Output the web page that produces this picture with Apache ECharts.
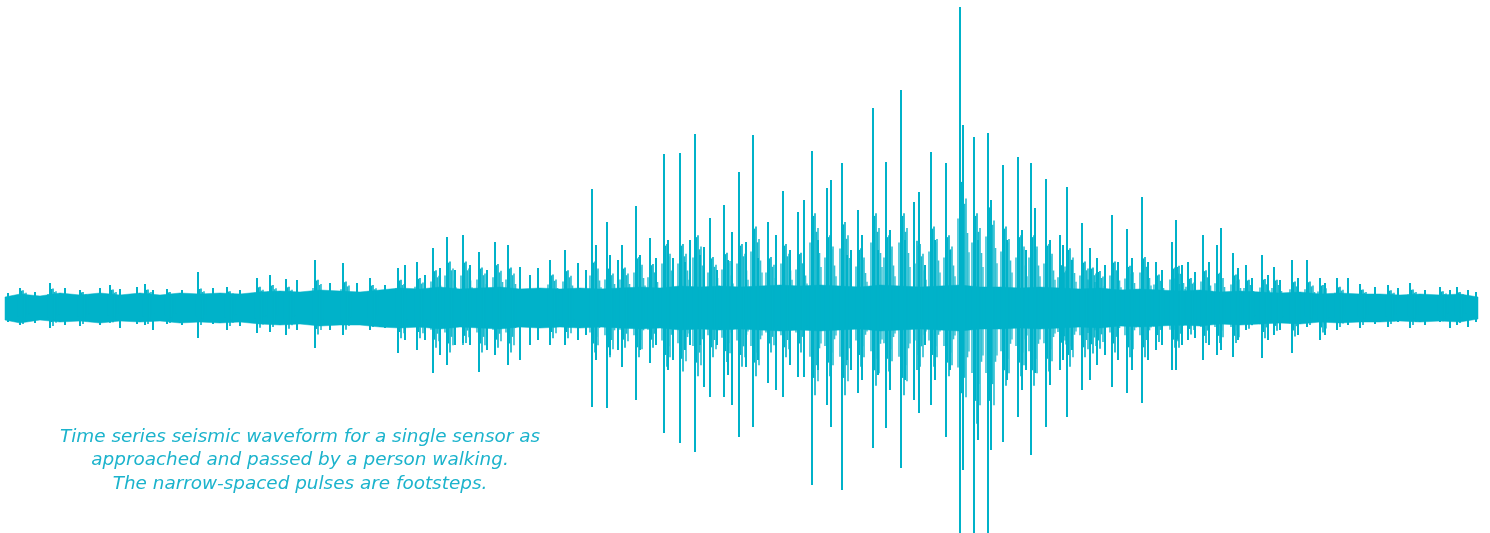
<!DOCTYPE html>
<html>
<head>
<meta charset="utf-8">
<script src="https://cdn.jsdelivr.net/npm/echarts@6/dist/echarts.min.js"></script>
<style>
html,body{margin:0;padding:0;background:#fff;}
#chart{width:1490px;height:533px;}
</style>
</head>
<body>
<div id="chart"></div>
<script>
// Caption lines
const captionLines = [
  'Time series seismic waveform for a single sensor as',
  'approached and passed by a person walking.',
  'The narrow-spaced pulses are footsteps.'
];

// Dense core band of the waveform (time, upper envelope, lower envelope)
const coreT = [5,20,40,60,80,100,120,140,160,180,200,220,240,260,280,300,320,340,360,380,400,420,440,460,480,500,520,540,560,580,600,620,640,660,680,700,720,740,760,780,800,820,840,860,880,900,920,940,960,980,1000,1020,1040,1060,1080,1100,1120,1140,1160,1180,1200,1220,1240,1260,1280,1300,1320,1340,1360,1380,1400,1420,1440,1460,1478];
const coreHi = [9,12,10,13,11,13,11,13,11,13,12,13,12,14,15,14,16,15,14,16,18,17,19,17,18,19,17,18,17,18,17,18,19,18,20,19,20,19,20,21,20,21,20,19,21,20,19,20,21,19,19,18,19,18,17,18,16,17,16,15,16,14,15,14,13,14,12,13,12,12,11,12,11,12,9];
const coreLo = [-14,-17,-14,-16,-15,-17,-15,-16,-15,-17,-16,-17,-16,-18,-19,-18,-20,-19,-19,-21,-22,-21,-23,-21,-22,-23,-21,-22,-21,-22,-21,-22,-23,-22,-24,-23,-24,-23,-24,-25,-24,-25,-24,-23,-25,-24,-23,-24,-25,-23,-23,-22,-23,-22,-21,-22,-20,-21,-20,-19,-20,-18,-19,-18,-17,-18,-16,-17,-16,-16,-15,-16,-15,-16,-13];

// Individual pulses (footstep spikes): time, positive peak, negative peak
const spikeT = [8,20,35,50,65,80,100,110,120,137,145,153,167,182,198,213,227,240,257,270,286,297,
  315,330,343,357,370,385,398,405,417,425,433,440,447,455,463,470,479,487,495,508,520,530,538,550,565,578,586,
  592,596,607,610,618,622,636,640,650,656,664,668,673,680,685,690,695,700,704,710,717,724,728,
  732,739,746,753,758,768,776,783,790,798,804,812,818,827,831,842,847,851,858,862,873,878,
  886,890,901,905,914,919,925,931,935,946,950,960,963,974,978,988,991,1003,1007,1018,1022,1026,
  1031,1035,1046,1050,1060,1063,1067,1072,1082,1090,1097,1105,1112,1118,1127,1132,1142,1148,1156,1162,1172,1176,1182,
  1188,1195,1203,1209,1217,1221,1233,1238,1246,1252,1262,1268,1274,1280,1292,1298,1307,1320,1325,1337,1348,1360,1375,1388,1398,1410,1425,1440,1450,1457,1468,1476];
const spikeHi = [13,18,14,23,18,16,18,21,17,19,22,16,17,16,34,18,19,16,28,31,27,26,
  46,23,43,23,28,21,38,41,44,31,58,38,69,36,71,41,54,36,64,61,39,31,38,46,56,43,36,
  117,61,84,51,46,61,100,51,68,48,152,66,48,153,44,66,172,51,59,88,36,101,46,
  74,134,64,171,48,84,71,115,56,94,106,155,66,118,126,143,51,56,96,71,198,56,
  144,76,216,66,104,114,41,154,66,143,56,299,181,169,66,173,106,141,66,149,76,56,
  143,98,127,66,71,61,119,46,83,58,48,41,91,44,77,48,109,44,44,36,64,86,41,
  44,34,71,44,61,78,53,38,41,28,51,31,39,26,46,28,46,28,23,28,28,22,19,21,18,23,16,19,16,19,16,14];
const spikeLo = [-16,-19,-17,-22,-19,-20,-19,-16,-22,-18,-19,-24,-18,-19,-32,-18,-24,-20,-27,-26,-29,-24,
  -42,-24,-29,-19,-24,-22,-47,-34,-44,-34,-67,-49,-59,-39,-37,-39,-66,-44,-49,-59,-54,-39,-34,-39,-39,-34,-29,
  -101,-54,-102,-49,-44,-61,-94,-44,-57,-39,-127,-64,-54,-137,-44,-39,-146,-39,-81,-91,-39,-91,-69,
  -99,-131,-61,-121,-54,-77,-84,-91,-59,-71,-71,-179,-64,-99,-121,-184,-54,-64,-87,-74,-142,-69,
  -122,-84,-162,-74,-94,-107,-39,-99,-74,-131,-64,-240,-164,-240,-134,-240,-144,-136,-74,-111,-84,-64,
  -149,-67,-121,-79,-64,-54,-111,-44,-84,-74,-59,-49,-81,-54,-87,-64,-97,-54,-44,-39,-64,-64,-39,
  -34,-32,-54,-39,-49,-44,-51,-34,-24,-19,-52,-34,-29,-24,-47,-29,-21,-34,-29,-24,-19,-22,-18,-21,-16,-22,-19,-16,-22,-19,-21,-16];

// Dense bursts that follow each footstep: time, upper and lower extent of the dense part
const burstT  = [20,50,80,110,145,167,198,227,257,270,286,315,343,370,398,417,
  433,447,463,479,495,508,550,565,592,607,622,636,650,664,680,695,710,724,739,753,768,783,798,812,827,842,858,873,886,901,917,931,946,960,974,988,1003,1018,1031,1046,1060,1067,1082,1090,1097,1112,1127,1142,1156,1172,1176,1188,1203,1217,1233,1246,1262,1274,1292,1307,1320,1337,1360,1388,1410,1440,1457];
const burstHi = [18,20,16,19,19,16,20,17,22,24,22,30,28,24,30,32,
  41,51,51,44,48,44,36,41,51,44,44,56,48,71,71,81,56,61,71,91,56,71,61,106,81,96,66,106,81,106,71,91,81,146,106,116,91,81,81,71,48,66,51,44,40,51,46,56,36,44,46,32,41,38,36,30,31,30,28,28,24,22,19,18,19,17,16];
const burstLo = [-19,-21,-19,-17,-19,-18,-20,-21,-23,-22,-24,-30,-25,-22,-34,-34,
  -44,-49,-39,-49,-44,-49,-34,-34,-49,-54,-44,-54,-44,-64,-69,-74,-54,-59,-64,-74,-49,-54,-49,-94,-74,-94,-64,-84,-69,-94,-64,-64,-74,-114,-124,-124,-84,-74,-84,-69,-48,-64,-54,-50,-45,-49,-54,-54,-38,-44,-44,-30,-39,-39,-39,-24,-34,-26,-32,-20,-28,-22,-20,-19,-20,-16,-18];

const COLOR = '#00B2C9';
const chart = echarts.init(document.getElementById('chart'));

const coreData = coreT.map((t, i) => [t, coreHi[i], coreLo[i]]);
const spikeData = spikeT.map((t, i) => [t, spikeHi[i], spikeLo[i]]);
const burstData = burstT.map((t, i) => [t, burstHi[i], burstLo[i]]);

// hatch pattern of a burst glyph: [offset in time units, relative length, opacity]
const HATCH = [[-2, 0.6, 0.8], [0, 1, 1], [1.5, 0.85, 1], [3, 0.95, 1], [4.5, 0.7, 0.9], [6, 0.8, 0.85], [7.5, 0.5, 0.8], [9, 0.4, 0.7]];

chart.setOption({
  animation: false,
  backgroundColor: '#ffffff',
  grid: { left: 0, right: 0, top: 0, bottom: 0 },
  xAxis: { type: 'value', min: 0, max: 1490, show: false },
  yAxis: { type: 'value', min: -227, max: 306, show: false },
  series: [
    {
      type: 'custom',
      clip: true,
      data: coreData,
      renderItem: function (params, api) {
        const i = params.dataIndex;
        if (i >= coreData.length - 1) return null;
        const a = coreData[i], b = coreData[i + 1];
        const pts = [
          api.coord([a[0], a[1]]), api.coord([b[0], b[1]]),
          api.coord([b[0], b[2]]), api.coord([a[0], a[2]])
        ];
        return { type: 'polygon', shape: { points: pts }, style: { fill: COLOR, stroke: COLOR, lineWidth: 0.5 } };
      }
    },
    {
      type: 'custom',
      clip: true,
      data: burstData,
      renderItem: function (params, api) {
        const t = api.value(0), hi = api.value(1), lo = api.value(2);
        return {
          type: 'group',
          children: HATCH.map(function (h, k) {
            const q1 = api.coord([t + h[0], hi * h[1] * (k % 2 ? 0.92 : 1)]);
            const q2 = api.coord([t + h[0], lo * h[1] * (k % 2 ? 1 : 0.9)]);
            return { type: 'line', shape: { x1: q1[0], y1: q1[1], x2: q2[0], y2: q2[1] }, style: { stroke: COLOR, lineWidth: 1.6, opacity: h[2] } };
          })
        };
      }
    },
    {
      type: 'custom',
      clip: true,
      data: spikeData,
      renderItem: function (params, api) {
        const p1 = api.coord([api.value(0), api.value(1)]);
        const p2 = api.coord([api.value(0), api.value(2)]);
        return { type: 'line', shape: { x1: p1[0], y1: p1[1], x2: p2[0], y2: p2[1] }, style: { stroke: COLOR, lineWidth: 2 } };
      }
    }
  ],
  graphic: captionLines.map((txt, i) => ({
    type: 'text',
    x: 300,
    y: 437 + i * 23.5,
    style: {
      text: txt,
      fill: '#1BB3CC',
      font: 'italic 18.4px "DejaVu Sans", sans-serif',
      align: 'center',
      verticalAlign: 'middle'
    }
  }))
});
</script>
</body>
</html>
